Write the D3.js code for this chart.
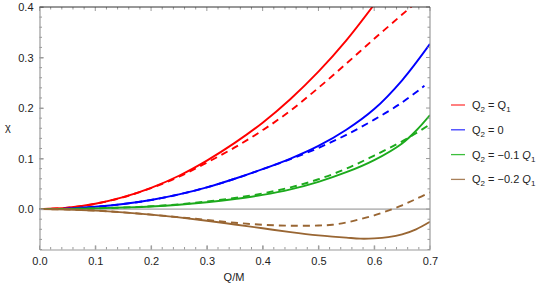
<!DOCTYPE html>
<html>
<head>
<meta charset="utf-8">
<script src="https://cdn.jsdelivr.net/npm/d3@7"></script>
<style>
  body { margin: 0; background: #fff; }
  text { font-family: "Liberation Sans", Arial, sans-serif; fill: #222; }
</style>
</head>
<body>
<svg id="chart" width="544" height="286"></svg>
<script>
// curves: Q/M on x, chi on y (solid = exact, dashed = approximation)
const qRed = [0, 0.05, 0.1, 0.15, 0.2, 0.25, 0.3, 0.35, 0.4, 0.45, 0.5, 0.55, 0.6];
const redSolid = [0, 0.0025, 0.0105, 0.0235, 0.042, 0.066, 0.096, 0.131, 0.171, 0.218, 0.272, 0.334, 0.405];
const qRedD = [0, 0.05, 0.1, 0.15, 0.2, 0.25, 0.3, 0.35, 0.4, 0.45, 0.5, 0.55, 0.6, 0.65, 0.67];
const redDash = [0, 0.0025, 0.0105, 0.0235, 0.0415, 0.064, 0.092, 0.122, 0.156, 0.195, 0.24, 0.288, 0.337, 0.385, 0.404];

const qBlue = [0, 0.05, 0.1, 0.15, 0.2, 0.25, 0.3, 0.35, 0.4, 0.45, 0.5, 0.55, 0.6, 0.65, 0.7];
const blueSolid = [0, 0.001, 0.0045, 0.01, 0.018, 0.029, 0.043, 0.06, 0.079, 0.1, 0.125, 0.157, 0.198, 0.255, 0.327];
const qBlueD = [0, 0.05, 0.1, 0.15, 0.2, 0.25, 0.3, 0.35, 0.4, 0.45, 0.5, 0.55, 0.6, 0.65, 0.69];
const blueDash = [0, 0.001, 0.0045, 0.01, 0.018, 0.029, 0.043, 0.06, 0.079, 0.099, 0.121, 0.147, 0.177, 0.211, 0.244];

const qGreen = [0, 0.05, 0.1, 0.15, 0.2, 0.25, 0.3, 0.35, 0.4, 0.45, 0.5, 0.55, 0.6, 0.65, 0.675, 0.7];
const greenSolid = [0, 0.0004, 0.0015, 0.003, 0.005, 0.0085, 0.0135, 0.02, 0.028, 0.039, 0.054, 0.073, 0.097, 0.13, 0.155, 0.186];
const greenDash = [0, 0.0004, 0.0015, 0.003, 0.0055, 0.0095, 0.015, 0.022, 0.031, 0.043, 0.059, 0.08, 0.106, 0.134, 0.15, 0.168];

const qBrown = [0, 0.05, 0.1, 0.15, 0.2, 0.25, 0.3, 0.35, 0.4, 0.45, 0.5, 0.525, 0.55, 0.575, 0.6, 0.625, 0.65, 0.675, 0.7];
const brownSolid = [0, -0.0008, -0.003, -0.0065, -0.011, -0.0165, -0.023, -0.0305, -0.038, -0.0455, -0.052, -0.0545, -0.0565, -0.0585, -0.058, -0.0555, -0.05, -0.04, -0.025];
const brownDash = [0, -0.0008, -0.003, -0.0065, -0.011, -0.016, -0.0215, -0.027, -0.031, -0.033, -0.0325, -0.031, -0.0265, -0.02, -0.0125, -0.003, 0.0075, 0.02, 0.033];

const xTicks = [0, 0.1, 0.2, 0.3, 0.4, 0.5, 0.6, 0.7];
const yTicks = [0, 0.1, 0.2, 0.3, 0.4];

const series = [
  { q: qRed, v: redSolid, color: '#ff0000', dash: null },
  { q: qRedD, v: redDash, color: '#ff0000', dash: '7,5' },
  { q: qBlue, v: blueSolid, color: '#0000ff', dash: null },
  { q: qBlueD, v: blueDash, color: '#0000ff', dash: '7,5' },
  { q: qGreen, v: greenSolid, color: '#1caa1c', dash: null },
  { q: qGreen, v: greenDash, color: '#1caa1c', dash: '7,5' },
  { q: qBrown, v: brownSolid, color: '#996633', dash: null },
  { q: qBrown, v: brownDash, color: '#996633', dash: '7,5' }
];

const legendItems = [
  { color: '#ff3b3b', coef: '' },
  { color: '#3b3bff', text: '0' },
  { color: '#3cbf3c', coef: '\u22120.1 ' },
  { color: '#a8805a', coef: '\u22120.2 ' }
];

const margin = { left: 39.5, top: 7, right: 114, bottom: 36.5 };
const W = 544, H = 286;
const svg = d3.select('#chart');

const x = d3.scaleLinear().domain([0, 0.7]).range([margin.left, W - margin.right]);
const y = d3.scaleLinear().domain([-0.08, 0.4]).range([H - margin.bottom, margin.top]);

// clip
svg.append('clipPath').attr('id', 'clip')
  .append('rect')
  .attr('x', x(0)).attr('y', y(0.4))
  .attr('width', x(0.7) - x(0)).attr('height', y(-0.08) - y(0.4));

// zero line
svg.append('line')
  .attr('x1', x(0)).attr('x2', x(0.7))
  .attr('y1', y(0)).attr('y2', y(0))
  .attr('stroke', '#8a8a8a').attr('stroke-width', 1);

// curves
const line = d3.line()
  .x(d => x(d[0]))
  .y(d => y(d[1]))
  .curve(d3.curveCatmullRom.alpha(0.5));

const g = svg.append('g').attr('clip-path', 'url(#clip)');
series.forEach(s => {
  g.append('path')
    .datum(s.q.map((q, i) => [q, s.v[i]]))
    .attr('d', line)
    .attr('fill', 'none')
    .attr('stroke', s.color)
    .attr('stroke-width', 1.9)
    .attr('stroke-dasharray', s.dash);
});

// frame and ticks
const minorX = d3.range(0, 0.7001, 0.02);
const minorY = d3.range(-0.08, 0.4001, 0.02);
const tickCol = '#9a9a9a';

const axB = svg.append('g').attr('transform', `translate(0,${y(-0.08)})`)
  .call(d3.axisBottom(x).tickValues(xTicks).tickFormat(d3.format('.1f')).tickSizeInner(-4).tickSizeOuter(0).tickPadding(8));
axB.selectAll('.tick line').attr('stroke', tickCol);
axB.selectAll('.tick').filter(d => d === 0 || d === 0.7).select('line').remove();

const axL = svg.append('g').attr('transform', `translate(${x(0)},0)`)
  .call(d3.axisLeft(y).tickValues(yTicks).tickFormat(d3.format('.1f')).tickSizeInner(-4).tickSizeOuter(0).tickPadding(6));
axL.selectAll('.tick line').attr('stroke', tickCol);

[axB, axL].forEach(a => {
  a.select('.domain').attr('stroke', tickCol).attr('stroke-width', 1.2);
  a.selectAll('text').style('font-size', '11px').attr('fill', '#222');
});

// minor ticks + top/right frame ticks
const ticks = svg.append('g').attr('stroke', tickCol).attr('stroke-width', 1);
minorX.forEach(v => {
  const major = xTicks.some(t => Math.abs(t - v) < 1e-6);
  const len = major ? 4 : 2.5;
  ticks.append('line').attr('x1', x(v)).attr('x2', x(v)).attr('y1', y(-0.08)).attr('y2', y(-0.08) - len);
  ticks.append('line').attr('x1', x(v)).attr('x2', x(v)).attr('y1', y(0.4)).attr('y2', y(0.4) + len);
});
minorY.forEach(v => {
  const major = yTicks.some(t => Math.abs(t - v) < 1e-6);
  const len = major ? 4 : 2.5;
  ticks.append('line').attr('x1', x(0)).attr('x2', x(0) + len).attr('y1', y(v)).attr('y2', y(v));
  ticks.append('line').attr('x1', x(0.7)).attr('x2', x(0.7) - len).attr('y1', y(v)).attr('y2', y(v));
});

// right and top frame
svg.append('line').attr('x1', x(0.7)).attr('x2', x(0.7)).attr('y1', y(0.4)).attr('y2', y(-0.08))
  .attr('stroke', tickCol).attr('stroke-width', 1.2);
svg.append('line').attr('x1', x(0)).attr('x2', x(0.7)).attr('y1', y(0.4)).attr('y2', y(0.4))
  .attr('stroke', '#333').attr('stroke-width', 1);

// axis labels
svg.append('text').attr('x', 8).attr('y', 131).attr('text-anchor', 'middle')
  .style('font-size', '11px').text('\u03c7');
svg.append('text').attr('x', 234).attr('y', 281).attr('text-anchor', 'middle')
  .style('font-size', '11px').text('Q/M');

// legend
const leg = svg.append('g').attr('transform', 'translate(451,105)');
legendItems.forEach((d, i) => {
  const row = leg.append('g').attr('transform', `translate(0,${i * 24.8})`);
  row.append('line').attr('x1', 0).attr('x2', 14).attr('y1', 0).attr('y2', 0)
    .attr('stroke', d.color).attr('stroke-width', 1.3);
  const t = row.append('text').attr('x', 21).attr('y', 4).style('font-size', '11px');
  t.append('tspan').text('Q');
  t.append('tspan').attr('dy', 3).style('font-size', '8px').text('2');
  t.append('tspan').attr('dy', -3).text(' = ');
  if (d.text) {
    t.append('tspan').text(d.text);
  } else {
    if (d.coef) t.append('tspan').text(d.coef);
    t.append('tspan').style('font-style', d.coef ? 'italic' : 'normal').text('Q');
    t.append('tspan').attr('dy', 3).style('font-size', '8px').text('1');
  }
});
</script>
</body>
</html>
